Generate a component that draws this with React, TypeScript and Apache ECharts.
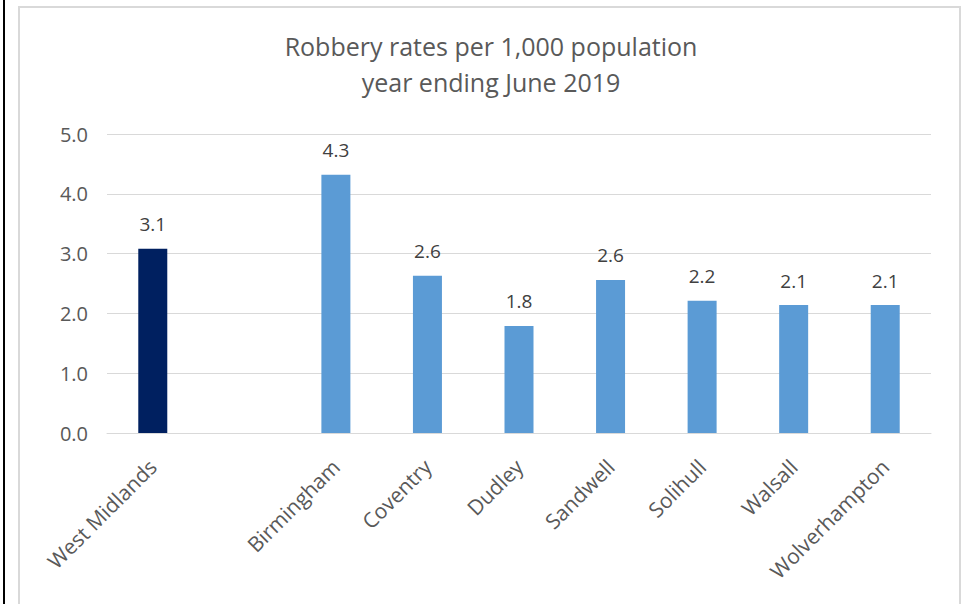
import React, { useEffect, useRef } from "react";
import * as echarts from "echarts";

const categories = [
  "West Midlands",
  "",
  "Birmingham",
  "Coventry",
  "Dudley",
  "Sandwell",
  "Solihull",
  "Walsall",
  "Wolverhampton",
];
const rates: (number | null)[] = [3.08, null, 4.32, 2.63, 1.79, 2.56, 2.21, 2.14, 2.14];
const barColors = ["#002060", "#5B9BD5", "#5B9BD5", "#5B9BD5", "#5B9BD5", "#5B9BD5", "#5B9BD5", "#5B9BD5", "#5B9BD5"];
const titleLines = ["Robbery rates per 1,000 population", "year ending June 2019"];
const yTicks = { min: 0, max: 5, interval: 1 };

const FONT = "Open Sans";

export default function App() {
  const ref = useRef<HTMLDivElement>(null);
  useEffect(() => {
    document.body.style.margin = "0";
    if (!ref.current) return;
    const chart = echarts.init(ref.current, undefined, { renderer: "svg" });
    chart.setOption({
      animation: false,
      backgroundColor: "#ffffff",
      textStyle: { fontFamily: FONT },
      title: {
        text: titleLines.join("\n"),
        left: 486,
        top: 23,
        textAlign: "center",
        textStyle: {
          fontFamily: FONT,
          fontSize: 25,
          fontWeight: "normal",
          color: "#595959",
          lineHeight: 36,
        },
      },
      graphic: [
        {
          type: "rect",
          shape: { x: 3, y: 0, width: 2, height: 604 },
          style: { fill: "#000000" },
          silent: true,
        },
        {
          type: "rect",
          shape: { x: 19, y: 7, width: 941, height: 620 },
          style: { fill: "none", stroke: "#D9D9D9", lineWidth: 2 },
          silent: true,
        },
      ],
      grid: { left: 107, right: 34, top: 134, bottom: 171, containLabel: false },
      xAxis: {
        type: "category",
        data: categories,
        axisLine: { show: true, lineStyle: { color: "#D9D9D9", width: 1 } },
        axisTick: { show: false },
        axisLabel: {
          interval: 0,
          rotate: 45,
          margin: 30,
          fontFamily: FONT,
          fontSize: 21,
          color: "#595959",
        },
      },
      yAxis: {
        type: "value",
        min: yTicks.min,
        max: yTicks.max,
        interval: yTicks.interval,
        axisLine: { show: false },
        axisTick: { show: false },
        splitLine: { lineStyle: { color: "#D9D9D9", width: 1 } },
        axisLabel: {
          margin: 19,
          fontFamily: FONT,
          fontSize: 20,
          color: "#595959",
          formatter: (v: number) => v.toFixed(1),
        },
      },
      series: [
        {
          type: "bar",
          barWidth: 29,
          data: rates.map((v, i) => ({ value: v, itemStyle: { color: barColors[i] } })),
          label: {
            show: true,
            position: "top",
            distance: 15,
            fontFamily: FONT,
            fontSize: 19,
            color: "#404040",
            formatter: (p: any) => (p.value == null ? "" : Number(p.value).toFixed(1)),
          },
        },
      ],
    });
    return () => chart.dispose();
  }, []);
  return <div ref={ref} style={{ width: 965, height: 604 }} />;
}
